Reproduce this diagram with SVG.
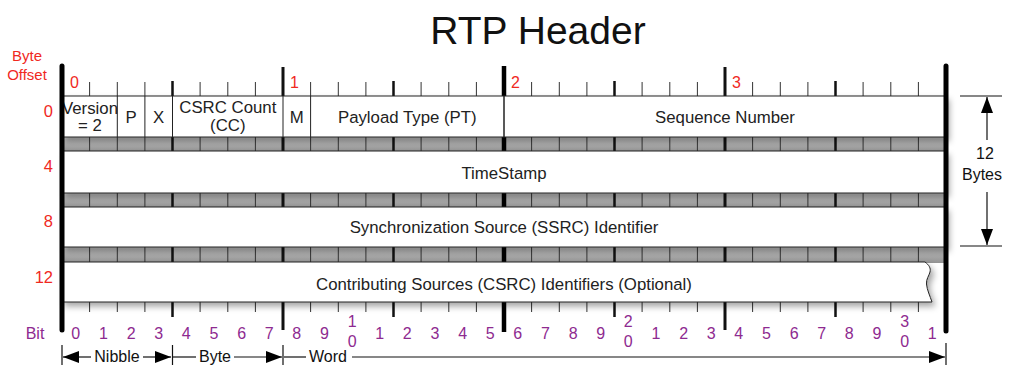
<svg xmlns="http://www.w3.org/2000/svg" width="1010" height="365" viewBox="0 0 1010 365">
<style>
text{font-family:"Liberation Sans",Arial,sans-serif}
.title{font-size:39px;fill:#111}
.red{fill:#f0291e}
.fld{font-size:16.8px;fill:#222}
.bit{font-size:16px;fill:#8e2a90}
.lbl{font-size:16px;fill:#111}
.row{fill:#fff;stroke:#222;stroke-width:1;filter:url(#sh)}
.t1{stroke:#333;stroke-width:1}
.t2{stroke:#111;stroke-width:2.5}
.t3{stroke:#111;stroke-width:3}
.t4{stroke:#000;stroke-width:4.5}
.bar{stroke:#000;stroke-width:5;stroke-linecap:round}
.div{stroke:#222;stroke-width:1}
.ln{stroke:#111;stroke-width:1.2;fill:none}
</style>
<defs>
<linearGradient id="gb" x1="0" y1="0" x2="0" y2="1">
<stop offset="0" stop-color="#d8d8d8"/>
<stop offset="0.2" stop-color="#bdbdbd"/>
<stop offset="1" stop-color="#929292"/>
</linearGradient>
<filter id="sh" x="-5%" y="-30%" width="110%" height="170%">
<feDropShadow dx="3" dy="4" stdDeviation="3" flood-color="#000" flood-opacity="0.35"/>
</filter>
<marker id="ah" viewBox="0 0 16 12" refX="16" refY="6" markerWidth="16" markerHeight="12" orient="auto" markerUnits="userSpaceOnUse">
<path d="M0,0 L16,6 L0,12 z" fill="#000"/>
</marker>
</defs>

<text class="title" x="538" y="44" text-anchor="middle">RTP Header</text>

<g id="byte-offset-labels" class="red">
<text x="27" y="61" text-anchor="middle" font-size="15">Byte</text>
<text x="27" y="80" text-anchor="middle" font-size="15">Offset</text>
<text x="53" y="117" text-anchor="end" font-size="16.5">0</text>
<text x="53" y="172" text-anchor="end" font-size="16.5">4</text>
<text x="53" y="227" text-anchor="end" font-size="16.5">8</text>
<text x="53" y="283" text-anchor="end" font-size="16.5">12</text>
<text x="70" y="88" font-size="16">0</text>
<text x="290" y="88" font-size="16">1</text>
<text x="511" y="88" font-size="16">2</text>
<text x="732" y="88" font-size="16">3</text>
</g>

<g id="bands">
<rect x="62" y="136" width="884" height="16" fill="url(#gb)"/>
<rect x="62" y="192" width="884" height="16" fill="url(#gb)"/>
<rect x="62" y="246" width="884" height="17" fill="url(#gb)"/>
</g>

<g id="ticks">
<path class="t1" d="M89.6,82V312 M117.3,82V312 M144.9,82V312 M200.1,82V312 M227.8,82V312 M255.4,82V312 M310.6,82V312 M338.3,82V312 M365.9,82V312 M421.1,82V312 M448.8,82V312 M476.4,82V312 M531.6,82V312 M559.3,82V312 M586.9,82V312 M642.1,82V312 M669.8,82V312 M697.4,82V312 M752.6,82V312 M780.3,82V312 M807.9,82V312 M863.1,82V312 M890.8,82V312 M918.4,82V312"/>
<path class="t2" d="M172.5,81V317 M393.5,81V317 M614.5,81V317 M835.5,81V317"/>
<path class="t3" d="M283,67V330 M725,67V330"/>
<path class="t4" d="M504,66V332"/>
</g>

<g id="row0">
<rect class="row" x="62" y="96" width="884" height="41"/>
<path class="div" d="M117.3,96V137 M144.9,96V137 M172.5,96V137 M283,96V137 M310.6,96V137"/>
<path stroke="#222" stroke-width="1.5" d="M504,96V137"/>
<text class="fld" font-size="13.5" x="90" y="114" text-anchor="middle">Version</text>
<text class="fld" font-size="13.5" x="90" y="131" text-anchor="middle">= 2</text>
<text class="fld" x="131" y="123" text-anchor="middle">P</text>
<text class="fld" x="158.7" y="123" text-anchor="middle">X</text>
<text class="fld" font-size="15" x="227.8" y="113" text-anchor="middle">CSRC Count</text>
<text class="fld" font-size="15" x="227.8" y="131" text-anchor="middle">(CC)</text>
<text class="fld" x="296.8" y="123" text-anchor="middle">M</text>
<text class="fld" x="407.3" y="123" text-anchor="middle">Payload Type (PT)</text>
<text class="fld" x="725" y="123" text-anchor="middle">Sequence Number</text>
</g>

<g id="row1">
<rect class="row" x="62" y="151" width="884" height="42"/>
<text class="fld" x="504" y="179" text-anchor="middle">TimeStamp</text>
</g>

<g id="row2">
<rect class="row" x="62" y="207" width="884" height="40"/>
<text class="fld" x="504" y="233" text-anchor="middle">Synchronization Source (SSRC) Identifier</text>
</g>

<g id="row3">
<path class="row" d="M62,262 H925 C929,265 931,268 930,272 C929,276 926,279 926.5,284 C927,290 930,296 932,302 H62 Z"/>
<text class="fld" x="504" y="290" text-anchor="middle">Contributing Sources (CSRC) Identifiers (Optional)</text>
</g>

<g id="bars">
<line class="bar" x1="62" y1="66" x2="62" y2="330"/>
<line class="bar" x1="946" y1="66" x2="946" y2="331"/>
</g>

<g id="bit-labels" class="bit">
<text x="35" y="339" text-anchor="middle">Bit</text>
<text x="75.8" y="339" text-anchor="middle">0</text>
<text x="103.4" y="339" text-anchor="middle">1</text>
<text x="131.1" y="339" text-anchor="middle">2</text>
<text x="158.7" y="339" text-anchor="middle">3</text>
<text x="186.3" y="339" text-anchor="middle">4</text>
<text x="213.9" y="339" text-anchor="middle">5</text>
<text x="241.6" y="339" text-anchor="middle">6</text>
<text x="269.2" y="339" text-anchor="middle">7</text>
<text x="296.8" y="339" text-anchor="middle">8</text>
<text x="324.4" y="339" text-anchor="middle">9</text>
<text x="352.1" y="327" text-anchor="middle">1</text>
<text x="352.1" y="347" text-anchor="middle">0</text>
<text x="379.7" y="339" text-anchor="middle">1</text>
<text x="407.3" y="339" text-anchor="middle">2</text>
<text x="434.9" y="339" text-anchor="middle">3</text>
<text x="462.6" y="339" text-anchor="middle">4</text>
<text x="490.2" y="339" text-anchor="middle">5</text>
<text x="517.8" y="339" text-anchor="middle">6</text>
<text x="545.4" y="339" text-anchor="middle">7</text>
<text x="573.1" y="339" text-anchor="middle">8</text>
<text x="600.7" y="339" text-anchor="middle">9</text>
<text x="628.3" y="327" text-anchor="middle">2</text>
<text x="628.3" y="347" text-anchor="middle">0</text>
<text x="655.9" y="339" text-anchor="middle">1</text>
<text x="683.6" y="339" text-anchor="middle">2</text>
<text x="711.2" y="339" text-anchor="middle">3</text>
<text x="738.8" y="339" text-anchor="middle">4</text>
<text x="766.4" y="339" text-anchor="middle">5</text>
<text x="794.1" y="339" text-anchor="middle">6</text>
<text x="821.7" y="339" text-anchor="middle">7</text>
<text x="849.3" y="339" text-anchor="middle">8</text>
<text x="876.9" y="339" text-anchor="middle">9</text>
<text x="904.6" y="327" text-anchor="middle">3</text>
<text x="904.6" y="347" text-anchor="middle">0</text>
<text x="932.2" y="339" text-anchor="middle">1</text>
</g>

<g id="size-dimension">
<path class="ln" d="M960,96H1002 M960,246H1002"/>
<line class="ln" x1="987" y1="140" x2="987" y2="97" marker-end="url(#ah)"/>
<line class="ln" x1="987" y1="192" x2="987" y2="245" marker-end="url(#ah)"/>
<text class="lbl" x="985" y="159" text-anchor="middle">12</text>
<text class="lbl" x="982" y="180" text-anchor="middle">Bytes</text>
</g>

<g id="unit-legend">
<path class="ln" d="M62,345V365 M172.5,345V365 M283,345V365 M946,343V365"/>
<line class="ln" x1="91" y1="357" x2="63" y2="357" marker-end="url(#ah)"/>
<line class="ln" x1="143" y1="357" x2="171" y2="357" marker-end="url(#ah)"/>
<line class="ln" x1="173" y1="357" x2="196" y2="357"/>
<line class="ln" x1="234" y1="357" x2="282" y2="357" marker-end="url(#ah)"/>
<line class="ln" x1="284" y1="357" x2="306" y2="357"/>
<line class="ln" x1="352" y1="357" x2="945" y2="357" marker-end="url(#ah)"/>
<text class="lbl" font-size="15" x="117" y="362" text-anchor="middle">Nibble</text>
<text class="lbl" font-size="15" x="215" y="362" text-anchor="middle">Byte</text>
<text class="lbl" font-size="15" x="328" y="362" text-anchor="middle">Word</text>
</g>
</svg>
